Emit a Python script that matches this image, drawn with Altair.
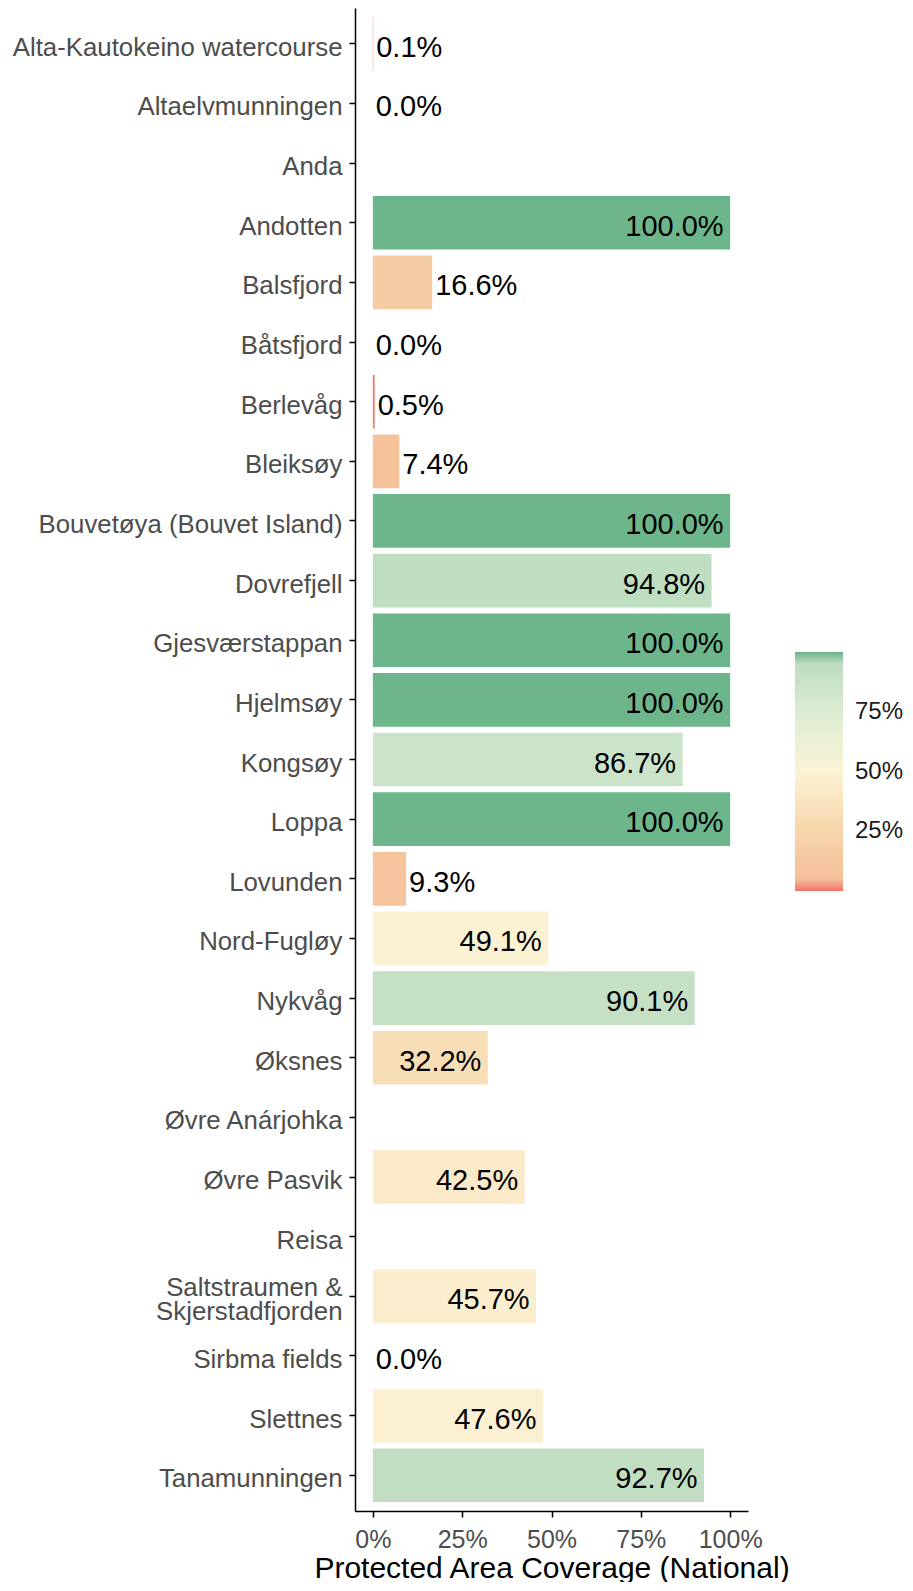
import altair as alt
import pandas as pd

sites = [
    "Alta-Kautokeino watercourse", "Altaelvmunningen", "Anda", "Andotten",
    "Balsfjord", "Båtsfjord", "Berlevåg", "Bleiksøy",
    "Bouvetøya (Bouvet Island)", "Dovrefjell", "Gjesværstappan", "Hjelmsøy",
    "Kongsøy", "Loppa", "Lovunden", "Nord-Fugløy", "Nykvåg", "Øksnes",
    "Øvre Anárjohka", "Øvre Pasvik", "Reisa", "Saltstraumen & Skjerstadfjorden",
    "Sirbma fields", "Slettnes", "Tanamunningen",
]
coverage = [
    0.1, 0.0, None, 100.0,
    16.6, 0.0, 0.5, 7.4,
    100.0, 94.8, 100.0, 100.0,
    86.7, 100.0, 9.3, 49.1, 90.1, 32.2,
    None, 42.5, None, 45.7,
    0.0, 47.6, 92.7,
]
x_ticks = [0, 25, 50, 75, 100]
legend_ticks = [25, 50, 75]

df = pd.DataFrame({"site": sites, "value": coverage})

FONT = "Liberation Sans"

y_scale = alt.Scale(domain=sites, paddingInner=0.1, paddingOuter=0.15)

y_enc = alt.Y(
    "site:N",
    sort=sites,
    title=None,
    scale=y_scale,
    axis=alt.Axis(
        labelFontSize=25.8,
        labelColor="#4d4d4d",
        labelFont=FONT,
        labelPadding=7,
        labelOffset={
            "condition": {"test": "datum.value == 'Saltstraumen & Skjerstadfjorden'", "value": -8.5},
            "value": 4,
        },
        labelLimit=400,
        labelLineHeight=24.5,
        tickSize=6,
        tickColor="black",
        tickWidth=1.5,
        domainColor="black",
        domainWidth=1.5,
        labelExpr="datum.value == 'Saltstraumen & Skjerstadfjorden' ? ['Saltstraumen &', 'Skjerstadfjorden'] : datum.value",
    ),
)

x_scale = alt.Scale(domain=[-5, 105], nice=False, zero=False)

color_scale = alt.Scale(
    type="linear",
    domain=[0, 0.6, 1.2, 25, 50, 75, 99.4, 100],
    range=["#f0736b", "#f07a6e", "#f4bb95", "#f7d5aa", "#fbf3d6", "#dcecd3", "#b8d9bc", "#6db58a"],
    interpolate="rgb",
)

base = alt.Chart(df).transform_filter("isValid(datum.value)")

bars = base.mark_bar().encode(
    y=y_enc,
    x=alt.X(
        "value:Q",
        scale=x_scale,
        stack=None,
        title="Protected Area Coverage (National)",
        axis=alt.Axis(
            values=x_ticks,
            labelExpr="datum.value + '%'",
            labelFontSize=25,
            labelColor="#4d4d4d",
            labelFont=FONT,
            labelPadding=10,
            tickSize=6,
            tickColor="black",
            tickWidth=1.5,
            domainColor="black",
            domainWidth=1.5,
            grid=False,
            titleFontSize=30,
            titleFont=FONT,
            titleFontWeight="normal",
            titleColor="black",
            titlePadding=1,
        ),
    ),
    x2=alt.datum(0),
    color=alt.Color(
        "value:Q",
        scale=color_scale,
        legend=alt.Legend(
            title=None,
            orient="none",
            legendX=440,
            legendY=644,
            direction="vertical",
            gradientLength=239,
            gradientThickness=48,
            gradientStrokeWidth=0,
            values=legend_ticks,
            labelExpr="datum.value + '%'",
            labelFontSize=24,
            labelFont=FONT,
            labelColor="#1a1a1a",
            labelOffset=12,
            padding=0,
        ),
    ),
)

labels = base.transform_calculate(
    lab="format(datum.value, '.1f') + '%'"
)

inside = labels.transform_filter("datum.value >= 20").mark_text(
    align="right", baseline="middle", dx=-6.5, dy=4, fontSize=29, font=FONT, color="black"
).encode(
    y=alt.Y("site:N", sort=sites, scale=y_scale),
    x=alt.X("value:Q", scale=x_scale),
    text="lab:N",
)

outside = labels.transform_filter("datum.value < 20").mark_text(
    align="left", baseline="middle", dx=3, dy=4, fontSize=29, font=FONT, color="black"
).encode(
    y=alt.Y("site:N", sort=sites, scale=y_scale),
    x=alt.X("value:Q", scale=x_scale),
    text="lab:N",
)

chart = alt.layer(bars, inside, outside).properties(
    width=393,
    height=1503,
    padding={"left": 347, "top": 0, "right": 157, "bottom": 71},
    autosize=alt.AutoSizeParams(type="none"),
).configure_view(stroke=None)

chart.save("out.html", embed_options={"renderer": "svg", "actions": False})
